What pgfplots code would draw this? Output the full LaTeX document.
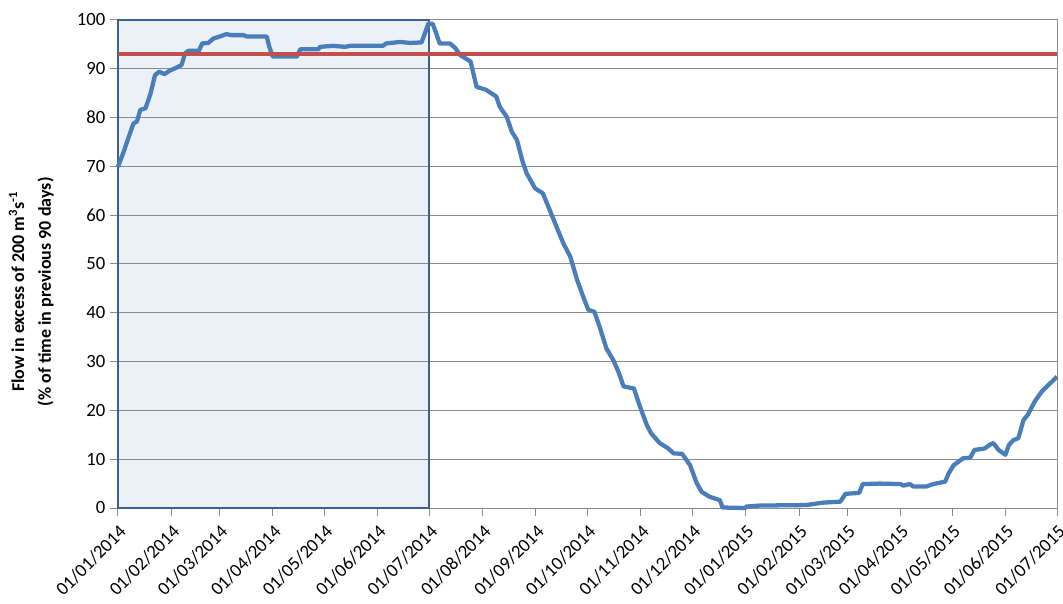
\documentclass[border=0pt]{standalone}
\usepackage{pgfplots}
\pgfplotsset{compat=1.18}
\usepackage{fontspec}
\setmainfont{Carlito}
\definecolor{lineblue}{HTML}{4A7EBB}
\definecolor{refred}{HTML}{C0504D}
\definecolor{boxblue}{HTML}{3C5F8F}
\definecolor{fillblue}{HTML}{4F81BD}
\definecolor{gridgrey}{HTML}{8C8C8C}
\begin{document}
\begin{tikzpicture}
\begin{axis}[
  at={(0,0)}, anchor=south west,
  width=704.25pt, height=366pt, scale only axis,
  xmin=0, xmax=546, ymin=0, ymax=100,
  xtick={0,31,59,90,120,151,181,212,243,273,304,334,365,396,424,455,485,516,546},
  xticklabels={01/01/2014,01/02/2014,01/03/2014,01/04/2014,01/05/2014,01/06/2014,01/07/2014,01/08/2014,01/09/2014,01/10/2014,01/11/2014,01/12/2014,01/01/2015,01/02/2015,01/03/2015,01/04/2015,01/05/2015,01/06/2015,01/07/2015},
  ytick={0,10,...,100},
  ymajorgrids,
  major grid style={gridgrey, line width=0.75pt},
  axis line style={gridgrey, line width=0.75pt},
  tick style={gridgrey, line width=0.75pt},
  tick align=outside, major tick length=6pt,
  xtick pos=left, ytick pos=left,
  tick label style={font=\fontsize{14}{16}\selectfont},
  /pgf/number format/assume math mode=true,
  xticklabel style={rotate=45, anchor=north east, inner sep=1pt, yshift=-3pt, xshift=-3pt},
  ylabel={Flow in excess of 200 m\textsuperscript{3}s\textsuperscript{-1}\\(\% of time in previous 90 days)},
  ylabel style={font=\bfseries\fontsize{13.5}{20}\selectfont, align=center,
    at={(axis description cs:-0.0923,0.443)}, anchor=center},
  clip=false,
]
\addplot[draw=boxblue, line width=1.5pt, fill=fillblue, fill opacity=0.11]
  coordinates {(0,0) (0,100) (181,100) (181,0)} -- cycle;
\addplot[color=lineblue, line width=3.2pt, line join=round] coordinates {
(0,69.9) (3,72.7) (7,76.8) (9,78.8) (11,79.2) (13,81.6) (16,81.9) (19,85)
(21.5,88.7) (24,89.4) (27,88.9) (30,89.6) (35,90.4) (37,90.8) (39,93.2)
(41,93.7) (47,93.7) (49,95.2) (52.5,95.3) (55.5,96.2) (59,96.6) (63,97.1)
(66,96.9) (73,96.9) (75,96.6) (86.5,96.6) (88,94.5) (90,92.5) (104,92.5)
(106,94) (116.5,94) (117.5,94.5) (125,94.7) (132,94.5) (135,94.7) (154,94.7)
(156,95.2) (164,95.5) (170,95.3) (176.5,95.4) (178.5,97.3) (180.5,99.3)
(183,99.2) (185,97.3) (187,95.2) (193,95.2) (196,94.3) (199,92.8) (205,91.5)
(208.5,86.3) (214,85.7) (220,84.3) (222,82.2) (226,80.2) (229,77.1) (232,75.4)
(235,71.3) (237.6,68.6) (242.5,65.5) (247,64.5) (251,61.1) (255,57.6)
(259,54.2) (263,51.5) (267,46.7) (270.5,43.3) (273.5,40.6) (277,40.2)
(280,37.2) (284,32.7) (288,30.3) (291,27.9) (294,24.9) (300,24.5)
(303.5,20.8) (307.5,17) (310,15.3) (315,13.3) (320,12.2) (323,11.2)
(328,11.1) (332.6,8.8) (336.5,5.1) (339.4,3.3) (344,2.3) (350,1.6)
(351.5,0.1) (364.6,0) (365.5,0.3) (373,0.5) (400,0.6) (404,0.8) (410,1.1)
(420,1.3) (423,2.9) (431,3.1) (433,4.9) (443,5.0) (455,4.9) (456.6,4.6)
(460.5,4.9) (462.5,4.4) (470,4.4) (474,4.9) (481,5.4) (483,7.1) (486,8.8)
(491.5,10.2) (495.5,10.3) (498,11.9) (504,12.2) (507,13.0) (509,13.3)
(512,11.9) (516,10.9) (518,12.9) (520.6,13.9) (523.5,14.3) (526.5,18.0)
(529,19.1) (533,21.8) (537,23.8) (541,25.2) (546,26.9)
};
\addplot[color=refred, line width=3pt] coordinates {(0,93) (546,93)};
\end{axis}
\pgfresetboundingbox
\path (-88.5pt,-71.25pt) rectangle (708.75pt,381pt);
\end{tikzpicture}
\end{document}
